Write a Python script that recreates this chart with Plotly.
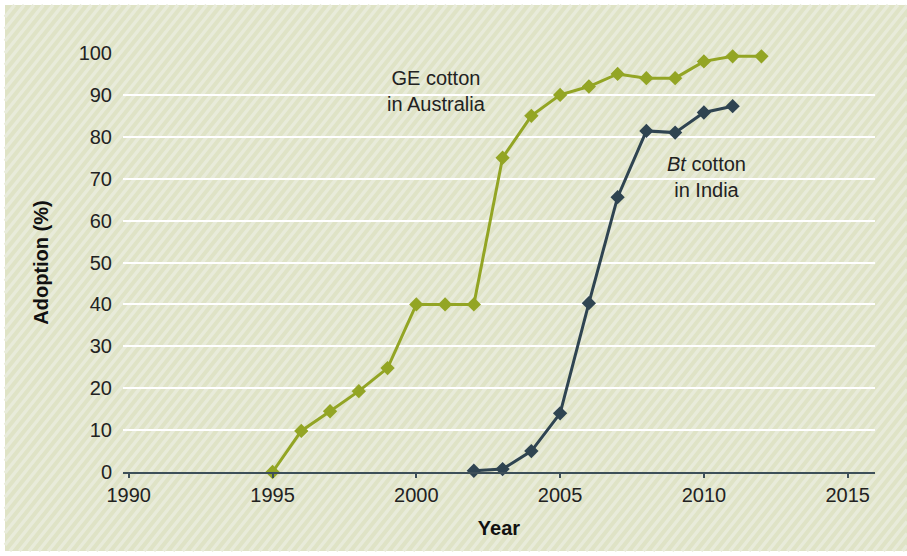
import plotly.graph_objects as go

# ---- data ----
aus_years = [1995, 1996, 1997, 1998, 1999, 2000, 2001, 2002, 2003, 2004, 2005, 2006, 2007, 2008, 2009, 2010, 2011, 2012]
aus_adoption = [0, 9.8, 14.5, 19.3, 24.8, 40, 40, 40, 75, 85, 90, 92, 95, 94, 94, 98, 99.2, 99.2]
ind_years = [2002, 2003, 2004, 2005, 2006, 2007, 2008, 2009, 2010, 2011]
ind_adoption = [0.3, 0.7, 5, 14, 40.3, 65.6, 81.4, 81, 85.8, 87.3]
x_ticks = [1990, 1995, 2000, 2005, 2010, 2015]
y_ticks = [0, 10, 20, 30, 40, 50, 60, 70, 80, 90, 100]

GREEN = "#93a524"
SLATE = "#2f4451"
FONT = "Liberation Sans, Arial, sans-serif"

W, H = 907, 556
L, R, T, B = 123, 32, 53, 84
PW, PH = W - L - R, H - T - B


def px(x):
    return (x - L) / PW


def py(y):
    return (H - B - y) / PH


fig = go.Figure()
fig.add_trace(go.Scatter(x=aus_years, y=aus_adoption, mode="lines+markers",
                         line=dict(color=GREEN, width=3),
                         marker=dict(symbol="diamond", size=11, color=GREEN),
                         cliponaxis=False, showlegend=False))
fig.add_trace(go.Scatter(x=ind_years, y=ind_adoption, mode="lines+markers",
                         line=dict(color=SLATE, width=3),
                         marker=dict(symbol="diamond", size=11, color=SLATE),
                         cliponaxis=False, showlegend=False))

# background panel with diagonal stripes
x0r, y0r, x1r, y1r = 5, 5, 907, 551
shapes = [dict(type="rect", xref="paper", yref="paper", layer="below",
               x0=px(x0r), x1=px(x1r), y0=py(y1r), y1=py(y0r),
               fillcolor="#dfe3c6", line=dict(width=0))]
k = 1.25  # stripe slope
path = []
c = x0r * k + y0r
step = 12
while c < x1r * k + y1r + step:
    pts = []
    for xx in (x0r, x1r):
        yy = c - k * xx
        if y0r <= yy <= y1r:
            pts.append((xx, yy))
    for yy in (y0r, y1r):
        xx = (c - yy) / k
        if x0r <= xx <= x1r:
            pts.append((xx, yy))
    if len(pts) >= 2:
        pts.sort()
        (ax, ay), (bx, by) = pts[0], pts[-1]
        path.append(f"M{px(ax):.5f},{py(ay):.5f} L{px(bx):.5f},{py(by):.5f}")
    c += step
shapes.append(dict(type="path", xref="paper", yref="paper", layer="below",
                   path=" ".join(path), line=dict(color="#e8ebda", width=3.5)))

fig.update_layout(
    width=W, height=H,
    margin=dict(l=L, r=R, t=T, b=B),
    paper_bgcolor="white",
    plot_bgcolor="rgba(0,0,0,0)",
    font=dict(family=FONT, size=20, color="#222222"),
    shapes=shapes,
    xaxis=dict(range=[1989.8, 2015.95], tickvals=x_ticks, showgrid=False,
               zeroline=False, showline=True, linecolor="#3d4f59", linewidth=2,
               ticks="outside", ticklen=4, tickwidth=1.5, tickcolor="#3d4f59",
               tickfont=dict(size=20, color="#222222"),
               title=dict(text="<b>Year</b>", font=dict(size=20, color="#111111"), standoff=16)),
    yaxis=dict(range=[0, 100], tickvals=y_ticks, showgrid=True, gridcolor="white",
               gridwidth=2, zeroline=False, showline=False, ticks="",
               ticklabelstandoff=10,
               tickfont=dict(size=20, color="#222222"),
               title=dict(text="<b>Adoption (%)</b>", font=dict(size=20, color="#111111"), standoff=24)),
    annotations=[
        dict(x=2000.71, y=90.9, xref="x", yref="y", showarrow=False,
             text="GE cotton<br>in Australia", font=dict(size=20, color="#222222"), align="center"),
        dict(x=2010.1, y=70.3, xref="x", yref="y", showarrow=False,
             text="<i>Bt</i> cotton<br>in India", font=dict(size=20, color="#222222"), align="center"),
    ],
)

fig.write_html("out.html", config={"displayModeBar": False},
               post_script="document.body.style.margin='0';document.body.style.overflow='hidden';")
